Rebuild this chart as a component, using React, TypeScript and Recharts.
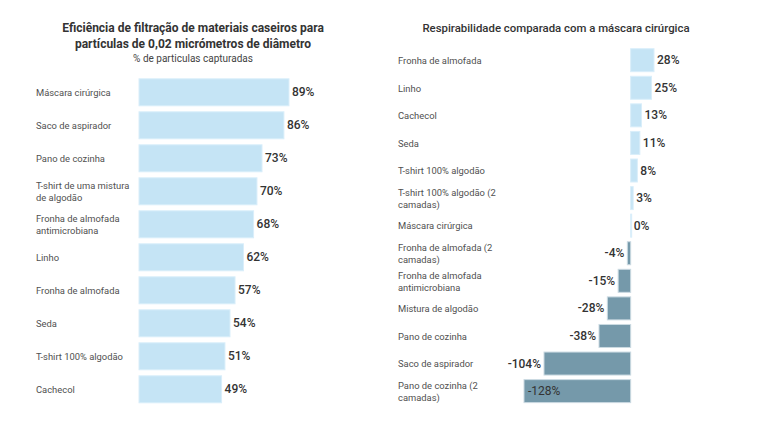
import React from "react";
import { BarChart, Bar, XAxis, YAxis, LabelList } from "recharts";

const leftCategories = [
  "Máscara cirúrgica",
  "Saco de aspirador",
  "Pano de cozinha",
  "T-shirt de uma mistura de algodão",
  "Fronha de almofada antimicrobiana",
  "Linho",
  "Fronha de almofada",
  "Seda",
  "T-shirt 100% algodão",
  "Cachecol",
];
const leftValues = [89, 86, 73, 70, 68, 62, 57, 54, 51, 49];

const rightCategories = [
  "Fronha de almofada",
  "Linho",
  "Cachecol",
  "Seda",
  "T-shirt 100% algodão",
  "T-shirt 100% algodão (2 camadas)",
  "Máscara cirúrgica",
  "Fronha de almofada (2 camadas)",
  "Fronha de almofada antimicrobiana",
  "Mistura de algodão",
  "Pano de cozinha",
  "Saco de aspirador",
  "Pano de cozinha (2 camadas)",
];
const rightValues = [28, 25, 13, 11, 8, 3, 0, -4, -15, -28, -38, -104, -128];

const leftTitle = ["Eficiência de filtração de materiais caseiros para", "partículas de 0,02 micrómetros de diâmetro"];
const leftSubtitle = "% de particulas capturadas";
const rightTitle = "Respirabilidade comparada com a máscara cirúrgica";

const FONT = '"Segoe UI", Roboto, "Noto Sans", sans-serif';
const POS_FILL = "#c5e4f5";
const POS_STROKE = "#d9eefa";
const NEG_FILL = "#7599aa";
const NEG_STROKE = "#cbdae2";

const leftData = leftCategories.map((name, i) => ({ name, value: leftValues[i] }));
const rightData = rightCategories.map((name, i) => ({ name, value: rightValues[i] }));

function wrap(text: string, maxChars = 23): string[] {
  const words = text.split(" ");
  const lines: string[] = [];
  let cur = "";
  for (const w of words) {
    const next = cur ? cur + " " + w : w;
    if (next.length > maxChars && cur) {
      lines.push(cur);
      cur = w;
    } else cur = next;
  }
  if (cur) lines.push(cur);
  return lines;
}

const makeTick = (fixedX: number) => (props: any) => {
  const { y, payload } = props;
  const lines = wrap(String(payload.value));
  const lh = 12;
  const start = -((lines.length - 1) * lh) / 2;
  return (
    <text x={fixedX} y={y} textAnchor="start" fontSize={9.4} fill="#505050" fontFamily={FONT}>
      {lines.map((l, i) => (
        <tspan key={i} x={fixedX} y={y + start + i * lh} dominantBaseline="central">
          {l}
        </tspan>
      ))}
    </text>
  );
};

const BarShape = (props: any) => {
  const { x, y, width, height } = props;
  const x0 = Math.min(x, x + width);
  let w = Math.abs(width);
  if (w < 1) w = 1;
  const neg = (props.payload?.value ?? 0) < 0;
  return (
    <rect
      x={x0}
      y={y}
      width={w}
      height={height}
      fill={neg ? NEG_FILL : POS_FILL}
      stroke={neg ? NEG_STROKE : POS_STROKE}
      strokeWidth={1}
    />
  );
};

const makeLabel = (plotLeft: number) => (props: any) => {
  const { x, y, width, height, value } = props;
  const x0 = Math.min(x, x + width);
  const x1 = Math.max(x, x + width);
  const cy = y + height / 2;
  const txt = `${value}%`;
  if (value < 0) {
    const est = txt.length * 7;
    if (x0 - 4 - est < plotLeft - 20) {
      return (
        <text x={x0 + 4} y={cy} dominantBaseline="central" textAnchor="start" fontSize={12} fill="#333" fontFamily={FONT}>
          {txt}
        </text>
      );
    }
    return (
      <text x={x0 - 3} y={cy} dominantBaseline="central" textAnchor="end" fontSize={12} fontWeight={500} fill="#333" fontFamily={FONT}>
        {txt}
      </text>
    );
  }
  return (
    <text x={x1 + 3} y={cy} dominantBaseline="central" textAnchor="start" fontSize={12} fontWeight={500} fill="#333" fontFamily={FONT}>
      {txt}
    </text>
  );
};

export default function App() {
  return (
    <div style={{ position: "absolute", left: 0, top: 0, width: 762, height: 428, background: "#fff", fontFamily: FONT }}>
      <div
        style={{
          position: "absolute",
          left: 0,
          top: 19.5,
          width: 386,
          textAlign: "center",
          fontSize: 12,
          fontWeight: 700,
          lineHeight: "16px",
          color: "#333",
        }}
      >
        {leftTitle.map((t, i) => (
          <div key={i}>{t}</div>
        ))}
      </div>
      <div
        style={{
          position: "absolute",
          left: 0,
          top: 53,
          width: 386,
          textAlign: "center",
          fontSize: 10,
          lineHeight: "12px",
          color: "#444",
        }}
      >
        {leftSubtitle}
      </div>
      <div
        style={{
          position: "absolute",
          left: 381,
          top: 19.5,
          width: 350,
          textAlign: "center",
          fontSize: 11.4,
          fontWeight: 500,
          lineHeight: "16px",
          color: "#333",
        }}
      >
        {rightTitle}
      </div>

      <div style={{ position: "absolute", left: 0, top: 0 }}>
        <BarChart
          width={380}
          height={428}
          data={leftData}
          layout="vertical"
          margin={{ top: 75.8, bottom: 22.2, left: 36, right: 72.5 }}
        >
          <XAxis type="number" domain={[0, 100]} hide />
          <YAxis
            type="category"
            dataKey="name"
            width={103}
            axisLine={false}
            tickLine={false}
            tick={makeTick(36)}
            interval={0}
          />
          <Bar dataKey="value" barSize={27} isAnimationActive={false} shape={BarShape}>
            <LabelList dataKey="value" content={makeLabel(139)} />
          </Bar>
        </BarChart>
      </div>

      <div style={{ position: "absolute", left: 381, top: 0 }}>
        <BarChart
          width={381}
          height={428}
          data={rightData}
          layout="vertical"
          margin={{ top: 46.7, bottom: 22.8, left: 17, right: 98 }}
        >
          <XAxis type="number" domain={[-140, 40]} hide />
          <YAxis
            type="category"
            dataKey="name"
            width={116}
            axisLine={false}
            tickLine={false}
            tick={makeTick(17)}
            interval={0}
          />
          <Bar dataKey="value" barSize={23} isAnimationActive={false} shape={BarShape}>
            <LabelList dataKey="value" content={makeLabel(133)} />
          </Bar>
        </BarChart>
      </div>
    </div>
  );
}
